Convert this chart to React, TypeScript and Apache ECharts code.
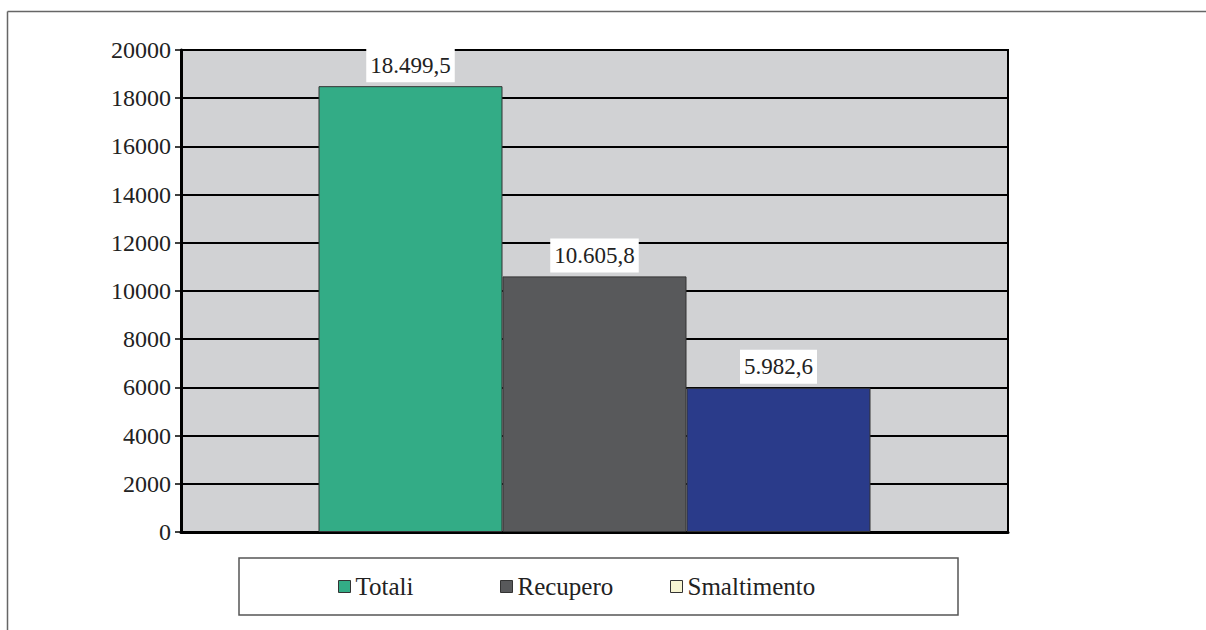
import React, { useEffect, useRef } from "react";
import * as echarts from "echarts";

const categories = ["Rifiuti"];
const seriesNames = ["Totali", "Recupero", "Smaltimento"];
const seriesValues = [18499.5, 10605.8, 5982.6];
const barColors = ["#33ac86", "#58595b", "#2a3b8a"];
const legendColors = ["#33ac86", "#58595b", "#f7f5d2"];
const legendLefts = [338, 500, 670];
const yTicks = [0, 2000, 4000, 6000, 8000, 10000, 12000, 14000, 16000, 18000, 20000];

function fmtIt(v: number): string {
  const [intPart, decPart] = v.toFixed(1).split(".");
  const withDots = intPart.replace(/\B(?=(\d{3})+(?!\d))/g, ".");
  return withDots + "," + decPart;
}

const FONT = "Liberation Serif";

export default function App() {
  const ref = useRef<HTMLDivElement>(null);
  useEffect(() => {
    document.body.style.margin = "0";
    const chart = echarts.init(ref.current!, null, { renderer: "svg" });
    chart.setOption({
      animation: false,
      backgroundColor: "#ffffff",
      textStyle: { fontFamily: FONT },
      grid: {
        left: 181,
        right: 198,
        top: 50,
        bottom: 98,
        show: true,
        backgroundColor: "#d1d2d4",
        borderColor: "#000",
        borderWidth: 2,
      },
      graphic: [
        { type: "line", shape: { x1: 7.5, y1: 11.5, x2: 1300, y2: 11.5 }, style: { stroke: "#666", lineWidth: 1.5 } },
        { type: "line", shape: { x1: 7.5, y1: 11.5, x2: 7.5, y2: 700 }, style: { stroke: "#666", lineWidth: 1.5 } },
        {
          type: "rect",
          z: -1,
          shape: { x: 239, y: 558, width: 719, height: 57 },
          style: { fill: "#fff", stroke: "#555", lineWidth: 1.5 },
        },
      ],
      legend: seriesNames.map((n, i) => ({
        left: legendLefts[i],
        top: 574,
        padding: 0,
        itemWidth: 12,
        itemHeight: 12,
        icon: "rect",
        selectedMode: false,
        textStyle: { fontFamily: FONT, fontSize: 25, color: "#222", lineHeight: 25 },
        data: [
          {
            name: n,
            itemStyle: { color: legendColors[i], borderColor: "#333", borderWidth: 1 },
          },
        ],
      })),
      xAxis: {
        type: "category",
        data: categories,
        axisLine: { show: true, lineStyle: { color: "#000", width: 3 } },
        axisTick: { show: false },
        axisLabel: { show: false },
        splitLine: { show: false },
      },
      yAxis: {
        type: "value",
        min: yTicks[0],
        max: yTicks[yTicks.length - 1],
        interval: 2000,
        axisLine: { show: true, lineStyle: { color: "#000", width: 3 } },
        axisTick: { show: true, length: 6, lineStyle: { color: "#000", width: 1.5 } },
        axisLabel: { fontFamily: FONT, fontSize: 24, color: "#222", margin: 10, formatter: (v: number) => String(v) },
        splitLine: { show: true, lineStyle: { color: "#000", width: 2 } },
      },
      series: seriesNames.map((n, i) => ({
        name: n,
        type: "bar",
        data: [seriesValues[i]],
        barWidth: 184,
        barGap: "0%",
        itemStyle: { color: barColors[i], borderColor: "#333", borderWidth: 1 },
        label: {
          show: true,
          position: "top",
          distance: 4,
          formatter: (p: any) => fmtIt(p.value),
          backgroundColor: "#fff",
          padding: [5, 4, 5, 4],
          lineHeight: 24,
          fontFamily: FONT,
          fontSize: 23,
          color: "#222",
        },
      })),
    });
    return () => chart.dispose();
  }, []);
  return <div ref={ref} style={{ width: 1206, height: 630 }} />;
}
